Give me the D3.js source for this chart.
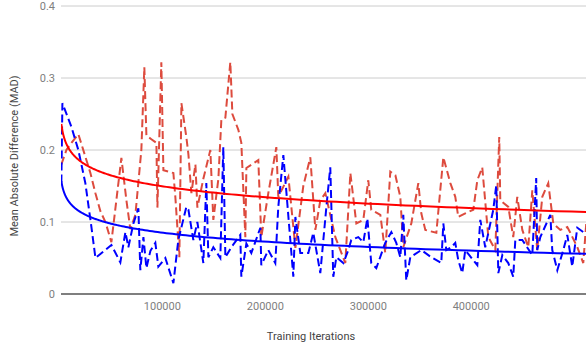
<!DOCTYPE html>
<html>
<head>
<meta charset="utf-8">
<script src="https://cdn.jsdelivr.net/npm/d3@7"></script>
<style>
  body { margin: 0; background: #fff; }
  svg { font-family: Roboto, Arial, sans-serif; }
</style>
</head>
<body>
<svg id="chart" width="586" height="347"></svg>
<script>
// MAD of the two runs, sampled at each logged training iteration
const redIters = [1900, 6800, 11700, 18400, 24300, 30100, 35000, 39800, 44700, 50500,
  60200, 65100, 68900, 73800, 79600, 82500, 84500, 89300, 94200, 95200,
  99000, 101000, 105800, 110700, 112600, 116500, 118500, 123300, 125300, 128200,
  132100, 134000, 139800, 146600, 149500, 154400, 157300, 161200, 166000, 168000,
  173800, 176700, 180600, 181600, 193200, 196100, 202900, 210700, 212600, 222400,
  229200, 236900, 243700, 248600, 253400, 258300, 268000, 277700, 282600, 288400,
  295200, 300000, 302900, 311700, 316500, 321400, 326300, 331100, 334000, 341800,
  348600, 351500, 355400, 366100, 372900, 379700, 384500, 387400, 394200, 402000,
  405900, 410700, 416600, 423400, 427200, 428200, 436000, 440800, 444700, 449600,
  455400, 459300, 464100, 469000, 474800, 479700, 486500, 493300, 496200, 503000,
  508800, 511700];
const redMAD = [0.18, 0.20, 0.21, 0.222, 0.195, 0.168, 0.14, 0.115, 0.10, 0.072,
  0.189, 0.13, 0.09, 0.11, 0.20, 0.315, 0.22, 0.215, 0.21, 0.12,
  0.322, 0.172, 0.17, 0.168, 0.135, 0.051, 0.265, 0.218, 0.194, 0.14,
  0.18, 0.12, 0.16, 0.20, 0.103, 0.16, 0.242, 0.245, 0.322, 0.25,
  0.228, 0.21, 0.079, 0.175, 0.186, 0.079, 0.14, 0.204, 0.135, 0.163,
  0.064, 0.15, 0.19, 0.089, 0.13, 0.14, 0.079, 0.043, 0.168, 0.098,
  0.103, 0.158, 0.117, 0.11, 0.057, 0.17, 0.165, 0.135, 0.065, 0.098,
  0.154, 0.112, 0.089, 0.085, 0.19, 0.154, 0.135, 0.107, 0.112, 0.117,
  0.158, 0.176, 0.079, 0.061, 0.218, 0.13, 0.121, 0.079, 0.135, 0.089,
  0.065, 0.144, 0.061, 0.135, 0.154, 0.098, 0.089, 0.093, 0.085, 0.065,
  0.043, 0.098];

const blueIters = [1900, 2900, 11700, 18400, 25200, 31100, 35000, 50500, 59200, 64100,
  67000, 71900, 76700, 78600, 81600, 84500, 88400, 93200, 96100, 102900,
  110700, 115500, 123300, 125300, 130100, 134000, 139800, 142700, 144700, 149500,
  156300, 159200, 161200, 167000, 175700, 176700, 181600, 186400, 195200, 196100,
  202900, 209700, 212600, 217500, 227200, 229200, 234000, 241800, 246600, 253400,
  259300, 263100, 266000, 269000, 275800, 280600, 283500, 290300, 295200, 299100,
  302900, 307800, 316500, 322400, 327200, 331100, 334000, 336900, 340800, 351500,
  361200, 370900, 372900, 375800, 380600, 384500, 387400, 391300, 394200, 405900,
  408800, 413600, 421400, 424300, 426300, 430200, 436000, 440800, 442800, 449600,
  459300, 463100, 464100, 467100, 476800, 478700, 483600, 489400, 493300, 498100,
  503000, 508800, 511700];
const blueMAD = [0.155, 0.265, 0.232, 0.20, 0.154, 0.093, 0.05, 0.068, 0.044, 0.086,
  0.065, 0.098, 0.119, 0.033, 0.079, 0.036, 0.06, 0.071, 0.038, 0.05,
  0.015, 0.075, 0.121, 0.117, 0.075, 0.10, 0.043, 0.154, 0.051, 0.065,
  0.05, 0.204, 0.051, 0.065, 0.082, 0.024, 0.07, 0.057, 0.092, 0.04,
  0.061, 0.043, 0.121, 0.193, 0.024, 0.107, 0.057, 0.057, 0.085, 0.029,
  0.121, 0.176, 0.024, 0.051, 0.043, 0.061, 0.075, 0.079, 0.072, 0.105,
  0.043, 0.036, 0.071, 0.086, 0.071, 0.051, 0.11, 0.019, 0.051, 0.061,
  0.051, 0.043, 0.098, 0.061, 0.065, 0.071, 0.047, 0.029, 0.061, 0.04,
  0.103, 0.065, 0.117, 0.151, 0.029, 0.054, 0.043, 0.024, 0.075, 0.075,
  0.054, 0.161, 0.061, 0.079, 0.11, 0.061, 0.033, 0.061, 0.082, 0.038,
  0.092, 0.086, 0.09];

// trendline readings taken off the chart (log trend of each run)
const trendIters = [1900, 15000, 31000, 63500, 96000, 127000, 190000, 253600, 381300, 511700];
const redTrendMAD = [0.236, 0.191, 0.1745, 0.1606, 0.151, 0.1444, 0.1375, 0.128, 0.120, 0.113];
const blueTrendMAD = [0.157, 0.118, 0.105, 0.0935, 0.088, 0.0829, 0.075, 0.069, 0.060, 0.0533];

const yTicks = [0, 0.1, 0.2, 0.3, 0.4];
const xTicks = [100000, 200000, 300000, 400000];

const svg = d3.select('#chart');
const plot = { left: 61, right: 586, top: 6, bottom: 294 };

const x = d3.scaleLinear().domain([0, 500000]).range([59.4, 574.2]);
const y = d3.scaleLinear().domain([0, 0.4]).range([plot.bottom, plot.top]);

svg.append('defs').append('clipPath').attr('id', 'clip')
  .append('rect')
  .attr('x', plot.left).attr('y', 0)
  .attr('width', plot.right - plot.left).attr('height', plot.bottom + 2);

// gridlines
svg.append('g')
  .selectAll('line')
  .data(yTicks.filter(d => d > 0))
  .join('line')
  .attr('x1', plot.left).attr('x2', plot.right)
  .attr('y1', d => y(d)).attr('y2', d => y(d))
  .attr('stroke', '#cccccc').attr('stroke-width', 1);

// y tick labels
svg.append('g')
  .selectAll('text')
  .data(yTicks)
  .join('text')
  .attr('x', 55)
  .attr('y', d => y(d))
  .attr('dy', '0.35em')
  .attr('text-anchor', 'end')
  .attr('font-size', 11)
  .attr('fill', '#808080')
  .text(d => d === 0 ? '0' : d3.format('.1f')(d));

// x tick labels
svg.append('g')
  .selectAll('text')
  .data(xTicks)
  .join('text')
  .attr('x', d => x(d))
  .attr('y', 310)
  .attr('text-anchor', 'middle')
  .attr('font-size', 11)
  .attr('fill', '#808080')
  .text(d => d);

// axis titles
svg.append('text')
  .attr('x', 311).attr('y', 340)
  .attr('text-anchor', 'middle')
  .attr('font-size', 11)
  .attr('fill', '#444')
  .text('Training Iterations');

svg.append('text')
  .attr('transform', 'translate(18,156) rotate(-90)')
  .attr('text-anchor', 'middle')
  .attr('font-size', 11)
  .attr('fill', '#444')
  .text('Mean Absolute Difference (MAD)');

const g = svg.append('g').attr('clip-path', 'url(#clip)');

const line = d3.line()
  .x(d => x(d[0]))
  .y(d => y(d[1]));

const redPts = redIters.map((it, i) => [it, redMAD[i]]);
const bluePts = blueIters.map((it, i) => [it, blueMAD[i]]);

g.append('path')
  .datum(redPts)
  .attr('d', line)
  .attr('fill', 'none')
  .attr('stroke', '#dd4b3e')
  .attr('stroke-width', 2)
  .attr('stroke-dasharray', '8,4');

g.append('path')
  .datum(bluePts)
  .attr('d', line)
  .attr('fill', 'none')
  .attr('stroke', '#0000ff')
  .attr('stroke-width', 2)
  .attr('stroke-dasharray', '8,4');

// smooth log curve through the trend readings (least squares on y = a + b*ln(x))
function logTrend(iters, vals) {
  const lx = iters.map(Math.log);
  const mx = d3.mean(lx), my = d3.mean(vals);
  let sxy = 0, sxx = 0;
  lx.forEach((l, i) => {
    sxy += (l - mx) * (vals[i] - my);
    sxx += (l - mx) * (l - mx);
  });
  const b = sxy / sxx, a = my - b * mx;
  const [x0, x1] = d3.extent(iters);
  return d3.range(201).map(k => {
    const xv = x0 * Math.pow(x1 / x0, k / 200);
    return [xv, a + b * Math.log(xv)];
  });
}

g.append('path')
  .datum(logTrend(trendIters, redTrendMAD))
  .attr('d', line)
  .attr('fill', 'none')
  .attr('stroke', '#ff0000')
  .attr('stroke-width', 2);

g.append('path')
  .datum(logTrend(trendIters, blueTrendMAD))
  .attr('d', line)
  .attr('fill', 'none')
  .attr('stroke', '#0000ff')
  .attr('stroke-width', 2);

// zero baseline
svg.append('line')
  .attr('x1', plot.left).attr('x2', plot.right)
  .attr('y1', y(0)).attr('y2', y(0))
  .attr('stroke', '#555').attr('stroke-width', 1.5);
</script>
</body>
</html>
